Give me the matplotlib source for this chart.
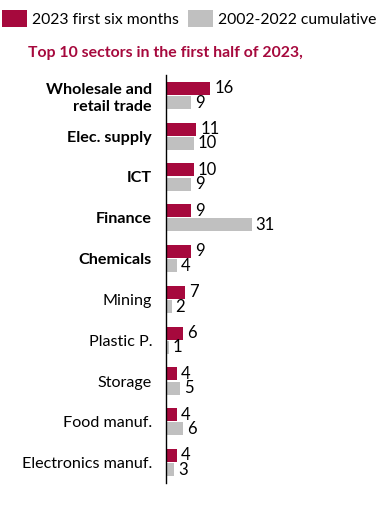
import matplotlib.pyplot as plt
import numpy as np

sectors = ['Wholesale and\nretail trade', 'Elec. supply', 'ICT', 'Finance', 'Chemicals',
           'Mining', 'Plastic P.', 'Storage', 'Food manuf.', 'Electronics manuf.']
bold_rows = 5
first_half_2023 = [16, 11, 10, 9, 9, 7, 6, 4, 4, 4]
cumulative_2002_2022 = [9, 10, 9, 31, 4, 2, 1, 5, 6, 3]

red = '#A6093D'
grey = '#C0C0C0'
plt.rcParams['font.family'] = ['Lato', 'DejaVu Sans']

fig = plt.figure(figsize=(3.86, 5.08), dpi=100)
ax = fig.add_axes([166 / 386, 1 - 483 / 508, 214 / 386, 408 / 508])

y = np.arange(len(sectors))
h = 0.32
off = 0.175
b1 = ax.barh(y - off, first_half_2023, height=h, color=red, label='2023 first six months')
b2 = ax.barh(y + off, cumulative_2002_2022, height=h, color=grey, label='2002-2022 cumulative')

for i in range(len(sectors)):
    ax.text(first_half_2023[i] + 1.5, y[i] - off, str(first_half_2023[i]),
            va='center', ha='left', fontsize=12)
    ax.text(cumulative_2002_2022[i] + 1.5, y[i] + off, str(cumulative_2002_2022[i]),
            va='center', ha='left', fontsize=12)

ax.set_ylim(len(sectors) - 0.5, -0.5)
ax.set_xlim(0, 77.5)
ax.set_yticks(y)
ax.set_yticklabels(sectors, fontsize=11.6)
for i, t in enumerate(ax.get_yticklabels()):
    if i < bold_rows:
        t.set_fontweight('bold')
    t.set_linespacing(1.3)
ax.tick_params(axis='y', length=0, pad=10)
ax.set_xticks([])
for s in ['top', 'right', 'bottom']:
    ax.spines[s].set_visible(False)
ax.spines['left'].set_linewidth(1.0)

fig.legend(handles=[b1, b2], loc='upper left', bbox_to_anchor=(0.0, 0.985), ncol=2,
           frameon=False, fontsize=11.3, handlelength=1.6, handleheight=1.25,
           handletextpad=0.3, columnspacing=0.55, borderaxespad=0.0, borderpad=0.15)

fig.text(28 / 386, 1 - 53 / 508, 'Top 10 sectors in the first half of 2023,',
         color=red, fontweight='bold', fontsize=11.4, va='center', ha='left')

fig.savefig('out.png', dpi=100)
